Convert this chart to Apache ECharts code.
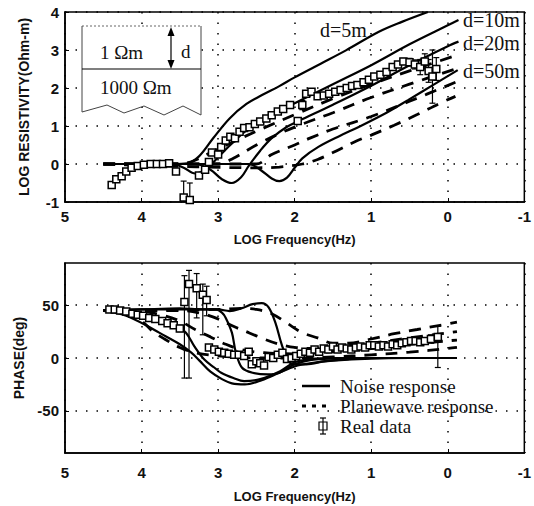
<!DOCTYPE html>
<html>
<head>
<meta charset="utf-8">
<script src="https://cdn.jsdelivr.net/npm/echarts@6.0.0/dist/echarts.min.js"></script>
<style>
  html, body { margin: 0; padding: 0; background: #fff; }
  #chart { width: 534px; height: 506px; }
</style>
</head>
<body>
<div id="chart"></div>
<script>
// x = log10(frequency), y = log10(resistivity) or phase (deg)
const rhoNoise5 = [[4.5,0],[3.6,0],[3.4,0.02],[3.25,0.2],[3.06,0.69],[2.85,1.2],[2.63,1.58],[2.42,1.82],[2.2,2.05],[2.0,2.28],[1.66,2.64],[1.33,2.99],[0.9,3.48],[0.6,3.74],[0.26,4.0]];
const rhoNoise10 = [[4.5,0],[3.6,0],[3.45,-0.1],[3.3,-0.25],[3.15,-0.12],[3.0,0.18],[2.8,0.58],[2.6,0.93],[2.3,1.3],[2.0,1.6],[1.5,2.1],[1.0,2.6],[0.5,3.15],[0,3.65],[-0.14,3.79]];
const rhoNoise20 = [[4.5,0],[3.3,0],[3.1,-0.15],[2.95,-0.4],[2.82,-0.5],[2.7,-0.35],[2.6,-0.05],[2.45,0.35],[2.3,0.68],[2.1,0.98],[1.95,1.13],[1.5,1.56],[1.0,2.06],[0.5,2.6],[0,3.1],[-0.14,3.22]];
const rhoNoise50 = [[4.5,0],[2.6,0],[2.45,-0.15],[2.3,-0.38],[2.2,-0.45],[2.1,-0.36],[2.0,-0.1],[1.9,0.15],[1.69,0.45],[1.4,0.75],[1.17,0.97],[0.8,1.35],[0.52,1.68],[0.2,2.07],[-0.13,2.47]];

const rhoPlane5 = [[4.5,0],[3.5,0],[3.3,0.1],[3.0,0.4],[2.7,0.68],[2.4,0.95],[2.0,1.3],[1.5,1.72],[1.0,2.1],[0.5,2.45],[-0.1,2.85]];
const rhoPlane10 = [[4.5,0],[3.0,0],[2.8,0.15],[2.5,0.5],[2.2,0.8],[1.9,1.05],[1.5,1.35],[1.0,1.75],[0.5,2.1],[-0.1,2.5]];
const rhoPlane20 = [[4.5,0],[2.5,0],[2.3,0.25],[2.0,0.5],[1.8,0.68],[1.5,0.92],[1.0,1.25],[0.5,1.65],[-0.1,2.15]];
const rhoPlane50 = [[4.5,0],[2.5,-0.1],[2.2,-0.08],[1.9,0],[1.7,0.12],[1.5,0.3],[1.2,0.6],[1.0,0.76],[0.7,1.02],[0.4,1.3],[0.1,1.6],[-0.1,1.78]];

const phaseNoise5 = [[4.5,45],[4.35,43],[4.2,40],[3.94,31],[3.77,24],[3.5,13],[3.35,5],[3.25,-2],[3.1,-13],[2.95,-20],[2.82,-24],[2.65,-25],[2.43,-21],[2.2,-14],[2.0,-8],[1.8,-5],[1.5,-2.5],[1.0,-0.5],[0.5,0],[-0.12,0]];
const phaseNoise10 = [[4.5,45],[4.2,44],[3.95,41],[3.77,37.5],[3.55,31],[3.42,24],[3.31,11],[3.18,-1.5],[3.05,-9],[2.96,-14],[2.8,-19],[2.66,-22],[2.45,-20],[2.19,-12.5],[2.0,-4],[1.8,-1],[1.5,0],[-0.12,0]];
const phaseNoise20 = [[4.5,45],[4.0,46],[3.5,47],[3.2,46],[3.03,46],[2.95,43],[2.9,38],[2.82,24],[2.77,6],[2.69,-9],[2.55,-14],[2.35,-15.5],[2.2,-14],[2.0,-6],[1.8,-2],[1.5,-0.5],[1.0,0],[-0.12,0]];
const phaseNoise50 = [[4.5,45],[4.0,46],[3.5,46],[3.0,46],[2.85,44.5],[2.7,47],[2.55,51],[2.43,52],[2.34,48],[2.25,33],[2.17,13],[2.08,-3],[2.0,-6],[1.85,-6],[1.6,-3],[1.3,-1],[1.0,0],[-0.12,0]];

const phasePlane5 = [[4.5,45],[4.2,42],[4.0,35],[3.85,25],[3.7,18],[3.5,10],[3.3,5],[3.0,2],[2.5,0],[2.0,0],[1.5,1],[1.0,3],[0.5,5.5],[0,9],[-0.12,10]];
const phasePlane10 = [[4.5,45],[4.0,44],[3.7,40],[3.5,35],[3.3,27],[3.1,20],[2.9,13],[2.7,8],[2.4,5],[2.0,4],[1.5,6],[1.0,9],[0.5,13],[-0.12,17]];
const phasePlane20 = [[4.5,45],[3.5,45],[3.2,42],[3.0,37],[2.8,30],[2.6,24],[2.4,18],[2.2,13],[2.0,10],[1.7,9],[1.4,11],[1.0,14],[0.5,19],[-0.12,25]];
const phasePlane50 = [[4.5,45],[3.0,46],[2.7,47],[2.5,46],[2.3,42],[2.1,33],[1.9,24],[1.7,19],[1.5,14],[1.3,14],[1.0,18],[0.7,23],[0.4,27],[0.1,31],[-0.12,34]];

// measured data
const rhoFreq = [4.39,4.33,4.26,4.2,4.13,4.05,3.97,3.88,3.8,3.72,3.64,3.55,3.45,3.37,3.25,3.17,3.12,3.08,3.0,2.96,2.9,2.84,2.78,2.72,2.66,2.59,2.52,2.45,2.37,2.3,2.22,2.15,2.06,1.96,1.9,1.85,1.78,1.7,1.62,1.55,1.47,1.4,1.32,1.25,1.18,1.1,1.03,0.96,0.88,0.8,0.72,0.65,0.58,0.5,0.43,0.36,0.3,0.25,0.2,0.15];
const rhoVal = [-0.55,-0.4,-0.32,-0.2,-0.1,-0.05,-0.02,0,0,0,0.02,-0.2,-0.88,-0.95,-0.3,-0.15,0.05,0.3,0.25,0.45,0.62,0.72,0.68,0.85,0.95,0.97,1.05,1.12,1.2,1.28,1.38,1.45,1.55,1.13,1.55,1.85,1.9,1.78,1.8,1.85,1.9,1.95,2.0,2.05,2.08,2.15,2.22,2.3,2.35,2.42,2.55,2.62,2.7,2.68,2.62,2.55,2.7,2.45,2.3,2.5];
const rhoErr = [0.05,0.05,0.05,0.04,0.04,0.04,0.03,0.03,0.03,0.03,
  0.03,0.05,0.43,0.45,0.06,0.05,0.05,0.06,0.05,0.05,
  0.05,0.05,0.05,0.05,0.05,0.05,0.05,0.05,0.05,0.05,
  0.05,0.05,0.05,0.07,0.12,0.06,0.05,0.05,0.05,0.05,
  0.05,0.05,0.05,0.05,0.05,0.05,0.05,0.05,0.05,0.05,
  0.05,0.06,0.08,0.1,0.12,0.2,0.2,0.3,0.7,0.3];

const phaseFreq = [4.42,4.35,4.28,4.2,4.12,4.05,3.98,3.9,3.82,3.73,3.66,3.58,3.5,3.44,3.38,3.28,3.2,3.15,3.12,3.05,2.99,2.92,2.86,2.79,2.73,2.66,2.6,2.56,2.5,2.45,2.4,2.34,2.28,2.22,2.16,2.1,2.04,1.98,1.92,1.86,1.8,1.74,1.68,1.62,1.56,1.5,1.44,1.38,1.32,1.26,1.2,1.14,1.08,1.02,0.96,0.9,0.84,0.78,0.72,0.66,0.6,0.54,0.48,0.42,0.36,0.3,0.22,0.13];
const phaseVal = [46,46,45,44,42,41,
  40,38,37,35,33,31,28,53,70,66,
  60,55,10,8,6,5,4,3,3,2,
  6,-6,-3,-5,-7,1,0,3,5,-1,
  0,2,4,6,5,8,6,9,8,11,
  8,10,9,8,10,11,10,12,12,11,
  12,11,13,12,14,15,16,16,15,16,
  18,20];
const phaseErrDown = [2,2,2,2,2,2,
  2,2,2,2,2,2,3,72,89,28,
  38,15,2,2,2,2,2,2,2,2,
  2,2,2,2,2,2,2,2,2,2,
  2,2,2,2,2,2,2,2,2,2,
  2,2,2,2,2,2,2,2,2,2,
  2,2,2,2,2,2,2,2,2,3,
  4,29];
const phaseErrUp = [2,2,2,2,2,2,
  2,2,2,2,2,2,3,25,13,14,
  10,13,2,2,2,2,2,2,2,2,
  2,2,2,2,2,2,2,2,2,2,
  2,2,2,2,2,2,2,2,2,2,
  2,2,2,2,2,2,2,2,2,2,
  2,2,2,2,2,2,2,2,2,3,
  4,10];

const phaseTicks = [-50, 0, 50];
const legendNames = ['Noise response', 'Planewave response', 'Real data'];

const SANS = '"Liberation Sans", Arial, sans-serif';
const SERIF = '"Liberation Serif", "Times New Roman", serif';
const INK = '#111';

function freqAxis(gridIndex, labelMargin, nameGap) {
  return {
    type: 'value', gridIndex, min: -1, max: 5, interval: 1, inverse: true,
    name: 'LOG Frequency(Hz)', nameLocation: 'middle', nameGap,
    nameTextStyle: { fontFamily: SANS, fontWeight: 'bold', fontSize: 13, color: INK },
    axisLine: { show: true, onZero: false, lineStyle: { color: '#000', width: 1.5 } },
    axisTick: { show: true, inside: true, length: 4, lineStyle: { color: '#000' } },
    axisLabel: { margin: labelMargin, fontFamily: SANS, fontWeight: 'bold', fontSize: 15, color: INK },
    splitLine: { show: true, lineStyle: { color: '#000', type: [1.5, 9], width: 1.5 } }
  };
}

function valueAxis(gridIndex, opts) {
  return Object.assign({
    type: 'value', gridIndex, nameLocation: 'middle',
    nameTextStyle: { fontFamily: SANS, fontWeight: 'bold', fontSize: 14, color: INK },
    axisLine: { show: true, onZero: false, lineStyle: { color: '#000', width: 1.5 } },
    axisTick: { show: true, inside: true, length: 4, lineStyle: { color: '#000' } },
    axisLabel: { margin: 6, fontFamily: SANS, fontWeight: 'bold', fontSize: 15, color: INK },
    splitLine: { show: true, lineStyle: { color: '#000', type: [1.5, 9], width: 1.5 } }
  }, opts);
}

function curve(name, data, gridIndex, dashed) {
  return {
    name, type: 'line', xAxisIndex: gridIndex, yAxisIndex: gridIndex,
    data, smooth: 0.35, symbol: 'none', showSymbol: false, z: 3,
    lineStyle: { color: '#000', width: dashed ? 2.8 : 2.2, type: dashed ? [12, 9] : 'solid' },
    itemStyle: { color: '#000' }
  };
}

function errorBars(data, gridIndex) {
  return {
    name: 'Real data', type: 'custom', xAxisIndex: gridIndex, yAxisIndex: gridIndex,
    data, clip: true, z: 4,
    renderItem(params, api) {
      const top = api.coord([api.value(0), api.value(2)]);
      const bot = api.coord([api.value(0), api.value(1)]);
      const style = { stroke: '#000', lineWidth: 1.2 };
      return {
        type: 'group',
        children: [
          { type: 'line', shape: { x1: top[0], y1: top[1], x2: bot[0], y2: bot[1] }, style },
          { type: 'line', shape: { x1: top[0] - 3, y1: top[1], x2: top[0] + 3, y2: top[1] }, style },
          { type: 'line', shape: { x1: bot[0] - 3, y1: bot[1], x2: bot[0] + 3, y2: bot[1] }, style }
        ]
      };
    }
  };
}

function squares(data, gridIndex) {
  return {
    name: 'Real data', type: 'scatter', xAxisIndex: gridIndex, yAxisIndex: gridIndex,
    data, symbol: 'rect', symbolSize: 7, z: 5,
    itemStyle: { color: '#fff', borderColor: '#000', borderWidth: 1.5, opacity: 1 }
  };
}

const rhoPoints = rhoFreq.map((f, i) => [f, rhoVal[i]]);
const rhoBars = rhoFreq.map((f, i) => [f, rhoVal[i] - rhoErr[i], rhoVal[i] + rhoErr[i]]);
const phasePoints = phaseFreq.map((f, i) => [f, phaseVal[i]]);
const phaseBars = phaseFreq.map((f, i) => [f, phaseVal[i] - phaseErrDown[i], phaseVal[i] + phaseErrUp[i]]);

const chart = echarts.init(document.getElementById('chart'), null, { renderer: 'svg' });

const inkLine = { stroke: '#444', lineWidth: 1 };
const textAt = (text, x, y, size) => ({
  type: 'text', z: 20, style: { text, x, y, fill: INK, font: size + 'px ' + SERIF, verticalAlign: 'middle' }
});
const sketchLine = (x1, y1, x2, y2, style) => ({ type: 'line', z: 20, shape: { x1, y1, x2, y2 }, style });
const zigzag = [[201, 115], [183, 106], [164, 115], [144, 106], [124, 113], [107, 105], [82, 112]];

// legend drawn by hand so the line keys match the figure (solid / dashed / data box)
const legendKeys = [
  sketchLine(302, 386, 330, 386, { stroke: '#000', lineWidth: 2.5 }),
  sketchLine(302, 406, 330, 406, { stroke: '#000', lineWidth: 3, lineDash: [4, 6] }),
  sketchLine(323, 418, 323, 434, { stroke: '#000', lineWidth: 1.2 }),
  sketchLine(320, 418, 326, 418, { stroke: '#000', lineWidth: 1.2 }),
  sketchLine(320, 434, 326, 434, { stroke: '#000', lineWidth: 1.2 }),
  { type: 'rect', z: 20, shape: { x: 319, y: 422, width: 8, height: 8 }, style: { fill: 'none', stroke: '#000', lineWidth: 1.2 } },
  textAt(legendNames[0], 340, 386, 19),
  textAt(legendNames[1], 340, 406, 19),
  textAt(legendNames[2], 340, 426, 19)
];

chart.setOption({
  animation: false,
  backgroundColor: '#fff',
  grid: [
    { left: 65, right: 7, top: 12, height: 190, show: true, borderColor: '#000', borderWidth: 1.5, backgroundColor: 'transparent' },
    { left: 65, right: 7, top: 263, height: 190, show: true, borderColor: '#000', borderWidth: 1.5, backgroundColor: 'transparent' }
  ],
  xAxis: [freqAxis(0, 7, 31), freqAxis(1, 12, 37)],
  yAxis: [
    valueAxis(0, { min: -1, max: 4, interval: 1, name: 'LOG RESISTIVITY(Ohm-m)', nameGap: 34 }),
    valueAxis(1, {
      min: -90, max: 90, name: 'PHASE(deg)', nameGap: 36,
      axisLabel: { margin: 6, fontFamily: SANS, fontWeight: 'bold', fontSize: 15, color: INK, customValues: phaseTicks },
      axisTick: { show: true, inside: true, length: 4, lineStyle: { color: '#000' }, customValues: phaseTicks }
    })
  ],
  graphic: [
    // two-layer model sketch
    { type: 'polygon', z: 19, shape: { points: [[82, 26], [201, 26]].concat(zigzag) }, style: { fill: '#fff' } },
    sketchLine(82, 26, 201, 26, { stroke: '#666', lineWidth: 1, lineDash: [2, 2] }),
    sketchLine(82, 26, 82, 112, inkLine),
    sketchLine(201, 26, 201, 115, inkLine),
    sketchLine(82, 69, 201, 69, { stroke: '#000', lineWidth: 1.2 }),
    { type: 'polyline', z: 20, shape: { points: zigzag }, style: { stroke: '#444', lineWidth: 1, fill: null } },
    sketchLine(171, 32, 171, 65, { stroke: '#000', lineWidth: 1.2 }),
    { type: 'polygon', z: 20, shape: { points: [[171, 27], [167.5, 36], [174.5, 36]] }, style: { fill: '#000' } },
    { type: 'polygon', z: 20, shape: { points: [[171, 69], [167.5, 60], [174.5, 60]] }, style: { fill: '#000' } },
    textAt('1 Ωm', 100, 52, 19),
    textAt('d', 181, 51, 19),
    textAt('1000 Ωm', 100, 87, 19),
    textAt('d=5m', 320, 30, 20),
    textAt('d=10m', 463, 20, 20),
    textAt('d=20m', 463, 43, 20),
    textAt('d=50m', 463, 71, 20)
  ].concat(legendKeys),
  series: [
    curve('Noise response', rhoNoise5, 0, false),
    curve('Noise response', rhoNoise10, 0, false),
    curve('Noise response', rhoNoise20, 0, false),
    curve('Noise response', rhoNoise50, 0, false),
    curve('Planewave response', rhoPlane5, 0, true),
    curve('Planewave response', rhoPlane10, 0, true),
    curve('Planewave response', rhoPlane20, 0, true),
    curve('Planewave response', rhoPlane50, 0, true),
    errorBars(rhoBars, 0),
    squares(rhoPoints, 0),
    curve('Noise response', phaseNoise5, 1, false),
    curve('Noise response', phaseNoise10, 1, false),
    curve('Noise response', phaseNoise20, 1, false),
    curve('Noise response', phaseNoise50, 1, false),
    curve('Planewave response', phasePlane5, 1, true),
    curve('Planewave response', phasePlane10, 1, true),
    curve('Planewave response', phasePlane20, 1, true),
    curve('Planewave response', phasePlane50, 1, true),
    errorBars(phaseBars, 1),
    squares(phasePoints, 1)
  ]
});
</script>
</body>
</html>
